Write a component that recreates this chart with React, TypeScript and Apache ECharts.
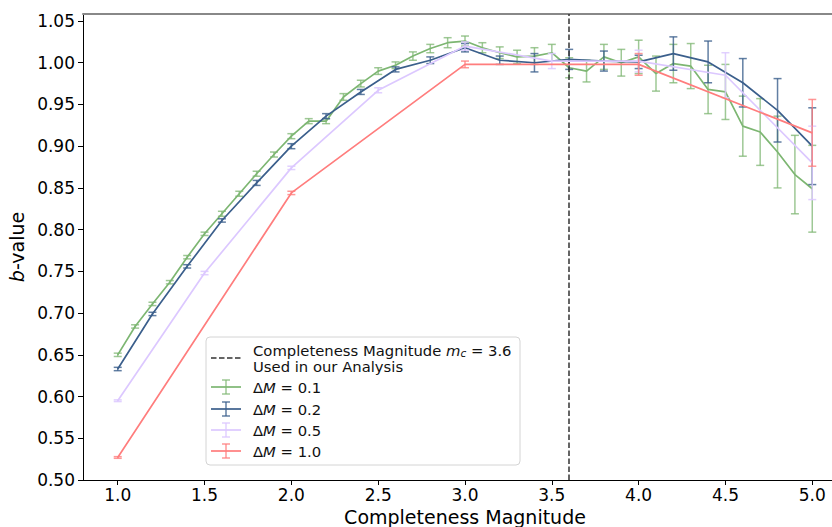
import React, { useEffect, useRef } from "react";
import * as echarts from "echarts";

// ---- data ----
const mag01 = [1.0, 1.1, 1.2, 1.3, 1.4, 1.5, 1.6, 1.7, 1.8, 1.9, 2.0, 2.1, 2.2, 2.3, 2.4, 2.5, 2.6, 2.7, 2.8, 2.9, 3.0, 3.1, 3.2, 3.3, 3.4, 3.5, 3.6, 3.7, 3.8, 3.9, 4.0, 4.1, 4.2, 4.3, 4.4, 4.5, 4.6, 4.7, 4.8, 4.9, 5.0];
const b01 = [0.650, 0.684, 0.711, 0.737, 0.767, 0.795, 0.819, 0.843, 0.867, 0.890, 0.912, 0.930, 0.930, 0.959, 0.975, 0.990, 0.997, 1.008, 1.017, 1.024, 1.026, 1.018, 1.012, 1.007, 1.008, 1.012, 0.994, 0.990, 1.007, 1.000, 1.007, 0.987, 0.999, 0.996, 0.968, 0.965, 0.924, 0.917, 0.893, 0.866, 0.849];
const e01 = [0.002, 0.002, 0.002, 0.002, 0.002, 0.002, 0.003, 0.003, 0.003, 0.003, 0.003, 0.003, 0.003, 0.004, 0.004, 0.004, 0.004, 0.005, 0.005, 0.006, 0.006, 0.006, 0.007, 0.008, 0.010, 0.010, 0.012, 0.013, 0.015, 0.016, 0.020, 0.021, 0.023, 0.027, 0.029, 0.033, 0.036, 0.040, 0.043, 0.047, 0.052];

const mag02 = [1.0, 1.2, 1.4, 1.6, 1.8, 2.0, 2.2, 2.4, 2.6, 2.8, 3.0, 3.2, 3.4, 3.6, 3.8, 4.0, 4.2, 4.4, 4.6, 4.8, 5.0];
const b02 = [0.633, 0.699, 0.756, 0.811, 0.856, 0.900, 0.936, 0.965, 0.992, 1.003, 1.018, 1.003, 1.000, 1.004, 1.002, 1.001, 1.011, 1.001, 0.976, 0.943, 0.900];
const e02 = [0.002, 0.002, 0.002, 0.002, 0.003, 0.003, 0.003, 0.003, 0.003, 0.004, 0.005, 0.005, 0.011, 0.012, 0.012, 0.008, 0.020, 0.025, 0.029, 0.038, 0.046];

const mag05 = [1.0, 1.5, 2.0, 2.5, 3.0, 3.5, 4.0, 4.5, 5.0];
const b05 = [0.595, 0.748, 0.874, 0.967, 1.020, 1.002, 1.002, 0.985, 0.880];
const e05 = [0.001, 0.002, 0.002, 0.003, 0.005, 0.009, 0.013, 0.027, 0.044];

const mag10 = [1.0, 2.0, 3.0, 4.0, 5.0];
const b10 = [0.527, 0.844, 0.998, 0.998, 0.916];
const e10 = [0.001, 0.002, 0.004, 0.013, 0.040];

const completenessMc = 3.6;
const xTicks = [1.0, 1.5, 2.0, 2.5, 3.0, 3.5, 4.0, 4.5, 5.0];
const yTicks = [0.5, 0.55, 0.6, 0.65, 0.7, 0.75, 0.8, 0.85, 0.9, 0.95, 1.0, 1.05];
const seriesNames = ["0.1", "0.2", "0.5", "1.0"];

const FONT = "DejaVu Sans";
const COLORS = ["#7db672", "#3b5f8c", "#dcc8ff", "#ff7d7d"];
const BAR_COLORS = ["rgba(125,182,114,0.75)", "rgba(59,95,140,0.8)", "rgba(220,200,255,0.85)", "rgba(255,125,125,0.8)"];

const groups = [
  { m: mag01, b: b01, e: e01 },
  { m: mag02, b: b02, e: e02 },
  { m: mag05, b: b05, e: e05 },
  { m: mag10, b: b10, e: e10 },
];

function buildOption(): any {
  const series: any[] = [];
  groups.forEach((g, gi) => {
    const color = COLORS[gi];
    const barColor = BAR_COLORS[gi];
    series.push({
      type: "custom",
      name: "err" + seriesNames[gi],
      xAxisIndex: 0,
      yAxisIndex: 0,
      data: g.m.map((x, i) => [x, g.b[i], g.e[i]]),
      encode: { x: 0, y: 1 },
      z: 2 + gi * 2,
      silent: true,
      renderItem: (params: any, api: any) => {
        const x = api.value(0);
        const y = api.value(1);
        const e = api.value(2);
        const p1 = api.coord([x, y + e]);
        const p2 = api.coord([x, y - e]);
        const hw = 4;
        const st = { stroke: barColor, lineWidth: 1.5 };
        return {
          type: "group",
          children: [
            { type: "line", shape: { x1: p1[0], y1: p1[1], x2: p2[0], y2: p2[1] }, style: st },
            { type: "line", shape: { x1: p1[0] - hw, y1: p1[1], x2: p1[0] + hw, y2: p1[1] }, style: st },
            { type: "line", shape: { x1: p2[0] - hw, y1: p2[1], x2: p2[0] + hw, y2: p2[1] }, style: st },
          ],
        };
      },
    });
    const line: any = {
      type: "line",
      name: "ΔM = " + seriesNames[gi],
      data: g.m.map((x, i) => [x, g.b[i]]),
      showSymbol: false,
      symbol: "none",
      z: 3 + gi * 2,
      lineStyle: { color, width: 1.7 },
      itemStyle: { color },
      silent: true,
    };
    if (gi === 0) {
      line.markLine = {
        silent: true,
        symbol: ["none", "none"],
        label: { show: false },
        lineStyle: { type: [5.5, 2.5], color: "#333", width: 1.5 },
        data: [{ xAxis: completenessMc }],
      };
    }
    series.push(line);
  });

  const legendX = 206;
  const legendY = 337;
  const hx0 = 211;
  const hx1 = 241;
  const hxc = 226;
  const textX = 253;
  const legendFont = 14.8;
  const itemYs = [387, 409, 430, 451];
  const legendChildren: any[] = [
    {
      type: "rect",
      shape: { x: legendX, y: legendY, width: 314, height: 128, r: 4 },
      style: { fill: "rgba(255,255,255,0.85)", stroke: "#d4d4d4", lineWidth: 1 },
    },
    {
      type: "line",
      shape: { x1: hx0, y1: 358, x2: hx1, y2: 358 },
      style: { stroke: "#333", lineWidth: 1.5, lineDash: [5.5, 2.5] },
    },
    {
      type: "text",
      x: textX,
      y: 350,
      style: {
        text: "Completeness Magnitude {i|m}{s|c} = 3.6",
        fontFamily: FONT,
        fontSize: legendFont,
        fill: "#111",
        verticalAlign: "middle",
        rich: {
          i: { fontStyle: "italic", fontSize: legendFont, fontFamily: FONT, fill: "#111" },
          s: { fontStyle: "italic", fontSize: 10.5, fontFamily: FONT, fill: "#111", padding: [6, 0, 0, 0] },
        },
      },
    },
    {
      type: "text",
      x: textX,
      y: 366,
      style: {
        text: "Used in our Analysis",
        fontFamily: FONT,
        fontSize: legendFont,
        fill: "#111",
        verticalAlign: "middle",
      },
    },
  ];
  itemYs.forEach((yy, gi) => {
    const bc = BAR_COLORS[gi];
    legendChildren.push(
      { type: "line", shape: { x1: hx0, y1: yy, x2: hx1, y2: yy }, style: { stroke: COLORS[gi], lineWidth: 1.7 } },
      { type: "line", shape: { x1: hxc, y1: yy - 7, x2: hxc, y2: yy + 7 }, style: { stroke: bc, lineWidth: 1.5 } },
      { type: "line", shape: { x1: hxc - 4, y1: yy - 7, x2: hxc + 4, y2: yy - 7 }, style: { stroke: bc, lineWidth: 1.5 } },
      { type: "line", shape: { x1: hxc - 4, y1: yy + 7, x2: hxc + 4, y2: yy + 7 }, style: { stroke: bc, lineWidth: 1.5 } },
      {
        type: "text",
        x: textX,
        y: yy,
        style: {
          text: "Δ{i|M} = " + seriesNames[gi],
          fontFamily: FONT,
          fontSize: legendFont,
          fill: "#111",
          verticalAlign: "middle",
          rich: { i: { fontStyle: "italic", fontSize: legendFont, fontFamily: FONT, fill: "#111" } },
        },
      }
    );
  });

  return {
    animation: false,
    backgroundColor: "#fff",
    textStyle: { fontFamily: FONT },
    grid: { left: 83, right: -15, top: 14, bottom: 47, containLabel: false, outerBoundsMode: "none" },
    xAxis: [
      {
        type: "value",
        min: 0.8,
        max: 5.2,
        name: "Completeness Magnitude",
        nameLocation: "middle",
        nameGap: 27,
        nameTextStyle: { fontSize: 19, color: "#000", fontFamily: FONT },
        axisLine: { show: true, onZero: false, lineStyle: { color: "#000", width: 1 } },
        axisTick: { show: true, length: 5, customValues: xTicks, lineStyle: { color: "#000", width: 1 } },
        axisLabel: {
          customValues: xTicks,
          formatter: (v: number) => v.toFixed(1),
          fontSize: 17,
          color: "#000",
          margin: 6,
          fontFamily: FONT,
        },
        splitLine: { show: false },
      },
      {
        type: "value",
        position: "top",
        min: 0.8,
        max: 5.2,
        axisLine: { show: true, onZero: false, lineStyle: { color: "#888", width: 2 } },
        axisTick: { show: false },
        axisLabel: { show: false },
        splitLine: { show: false },
      },
    ],
    yAxis: {
      type: "value",
      min: 0.5,
      max: 1.0584,
      name: "{i|b}-value",
      nameLocation: "middle",
      nameGap: 51,
      nameTextStyle: {
        fontSize: 19,
        color: "#000",
        fontFamily: FONT,
        rich: { i: { fontStyle: "italic", fontSize: 19, color: "#000", fontFamily: FONT } },
      },
      axisLine: { show: true, onZero: false, lineStyle: { color: "#000", width: 1 } },
      axisTick: { show: true, length: 5, customValues: yTicks, lineStyle: { color: "#000", width: 1 } },
      axisLabel: {
        customValues: yTicks,
        formatter: (v: number) => v.toFixed(2),
        fontSize: 17,
        color: "#000",
        margin: 8,
        fontFamily: FONT,
      },
      splitLine: { show: false },
    },
    series,
    graphic: [{ type: "group", z: 100, children: legendChildren }],
  };
}

export default function App() {
  const ref = useRef<HTMLDivElement>(null);
  useEffect(() => {
    document.body.style.margin = "0";
    document.body.style.overflow = "hidden";
    if (!ref.current) return;
    const chart = echarts.init(ref.current, null, { renderer: "svg" });
    chart.setOption(buildOption());
    return () => chart.dispose();
  }, []);
  return <div ref={ref} style={{ width: 832, height: 527 }} />;
}
